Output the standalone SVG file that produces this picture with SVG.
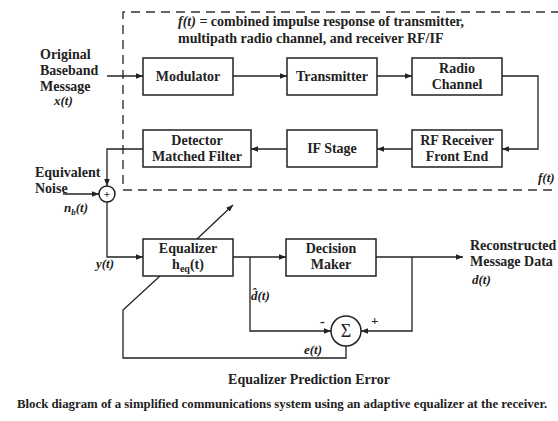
<svg xmlns="http://www.w3.org/2000/svg" width="558" height="421" viewBox="0 0 558 421" font-family="'Liberation Serif', 'DejaVu Serif', serif">
  <defs>
    <marker id="arrow" viewBox="0 0 10 10" refX="10" refY="5" markerWidth="7" markerHeight="7" orient="auto" markerUnits="userSpaceOnUse">
      <path d="M0,1 L10,5 L0,9 Z" fill="#222"/>
    </marker>
    <style>
      .box { fill: none; stroke: #222; stroke-width: 1.5; }
      .wire { fill: none; stroke: #222; stroke-width: 1.3; }
      .dash { fill: none; stroke: #333; stroke-width: 1.4; stroke-dasharray: 9 6; }
      .lbl { font-family: "Liberation Serif", "DejaVu Serif", serif; font-weight: bold; font-size: 14px; fill: #222; }
      .mid { text-anchor: middle; }
      .it { font-style: italic; }
      .small { font-size: 13px; }
      .note { font-size: 14px; }
      .cap { font-size: 12.8px; }
      .plus { font-size: 11px; }
      .sigma { font-size: 18px; font-weight: normal; }
    </style>
  </defs>
  <rect width="558" height="421" fill="#fff"/>

  <!-- dashed boundary of f(t) -->
  <path class="dash" d="M560,12 H123 V190 H560"/>
  <text class="lbl note" x="178" y="26"><tspan class="it">f(t)</tspan> = combined impulse response of transmitter,</text>
  <text class="lbl note" x="178" y="43">multipath radio channel, and receiver RF/IF</text>
  <text class="lbl small it" x="538" y="182">f(t)</text>

  <!-- input labels -->
  <text class="lbl" x="40" y="59">Original</text>
  <text class="lbl" x="40" y="75">Baseband</text>
  <text class="lbl" x="40" y="91">Message</text>
  <text class="lbl it small" x="54" y="105">x(t)</text>

  <text class="lbl" x="35" y="177">Equivalent</text>
  <text class="lbl" x="35" y="193">Noise</text>
  <text class="lbl it small" x="64" y="212">n<tspan font-size="9" dy="3">b</tspan><tspan dy="-3">(t)</tspan></text>
  <text class="lbl it small" x="96" y="268">y(t)</text>

  <!-- connectors -->
  <g id="connectors">
    <path class="wire" d="M107,76 H143" marker-end="url(#arrow)"/>
    <path class="wire" d="M233,76 H287" marker-end="url(#arrow)"/>
    <path class="wire" d="M377,76 H412" marker-end="url(#arrow)"/>
    <path class="wire" d="M502,76 H538 V149 H502" marker-end="url(#arrow)"/>
    <path class="wire" d="M412,149 H377" marker-end="url(#arrow)"/>
    <path class="wire" d="M287,149 H251" marker-end="url(#arrow)"/>
    <path class="wire" d="M143,149 H107 V186" marker-end="url(#arrow)"/>
    <path class="wire" d="M63,194 H99" marker-end="url(#arrow)"/>
    <path class="wire" d="M107,202 V257 H143" marker-end="url(#arrow)"/>
    <path class="wire" d="M233,257 H286" marker-end="url(#arrow)"/>
    <path class="wire" d="M376,257 H463" marker-end="url(#arrow)"/>
    <path class="wire" d="M250,257 V331 H331" marker-end="url(#arrow)"/>
    <path class="wire" d="M412,257 V331 H361" marker-end="url(#arrow)"/>
    <path class="wire" d="M346,346 V358 H123 V310 L160,276"/>
    <path class="wire" d="M197,239 L233,205" marker-end="url(#arrow)"/>
  </g>

  <!-- blocks -->
  <g id="modulator">
    <rect class="box" x="143" y="58" width="90" height="37"/>
    <text class="lbl mid" x="188" y="81">Modulator</text>
  </g>
  <g id="transmitter">
    <rect class="box" x="287" y="58" width="90" height="37"/>
    <text class="lbl mid" x="332" y="81">Transmitter</text>
  </g>
  <g id="radio-channel">
    <rect class="box" x="412" y="58" width="90" height="37"/>
    <text class="lbl mid" x="457" y="73">Radio</text>
    <text class="lbl mid" x="457" y="89">Channel</text>
  </g>
  <g id="rf-receiver">
    <rect class="box" x="412" y="130" width="90" height="37"/>
    <text class="lbl mid" x="457" y="145">RF Receiver</text>
    <text class="lbl mid" x="457" y="161">Front End</text>
  </g>
  <g id="if-stage">
    <rect class="box" x="287" y="130" width="90" height="37"/>
    <text class="lbl mid" x="332" y="153">IF Stage</text>
  </g>
  <g id="detector">
    <rect class="box" x="143" y="130" width="108" height="37"/>
    <text class="lbl mid" x="197" y="145">Detector</text>
    <text class="lbl mid" x="197" y="161">Matched Filter</text>
  </g>
  <g id="noise-adder">
    <circle class="box" cx="107" cy="194" r="8" fill="#fff"/>
    <text class="lbl mid plus" x="107" y="198">+</text>
  </g>
  <g id="equalizer">
    <rect class="box" x="143" y="239" width="90" height="37"/>
    <text class="lbl mid" x="188" y="253">Equalizer</text>
    <text class="lbl mid" x="188" y="269">h<tspan font-size="10" dy="3">eq</tspan><tspan dy="-3">(t)</tspan></text>
  </g>
  <g id="decision-maker">
    <rect class="box" x="286" y="239" width="90" height="37"/>
    <text class="lbl mid" x="331" y="253">Decision</text>
    <text class="lbl mid" x="331" y="269">Maker</text>
  </g>
  <g id="error-summer">
    <circle class="box" cx="346" cy="331" r="15"/>
    <text class="lbl mid sigma" x="346" y="337">Σ</text>
    <text class="lbl" x="320" y="326">-</text>
    <text class="lbl small" x="371" y="325">+</text>
  </g>

  <!-- signal labels -->
  <text class="lbl it small" x="251" y="300">d̂(t)</text>
  <text class="lbl it small" x="304" y="354">e(t)</text>
  <text class="lbl" x="470" y="250">Reconstructed</text>
  <text class="lbl" x="470" y="266">Message Data</text>
  <text class="lbl it small" x="472" y="284">d(t)</text>
  <text class="lbl mid" x="309" y="384">Equalizer Prediction Error</text>

  <text class="lbl cap" x="17" y="408">Block diagram of a simplified communications system using an adaptive equalizer at the receiver.</text>
</svg>
